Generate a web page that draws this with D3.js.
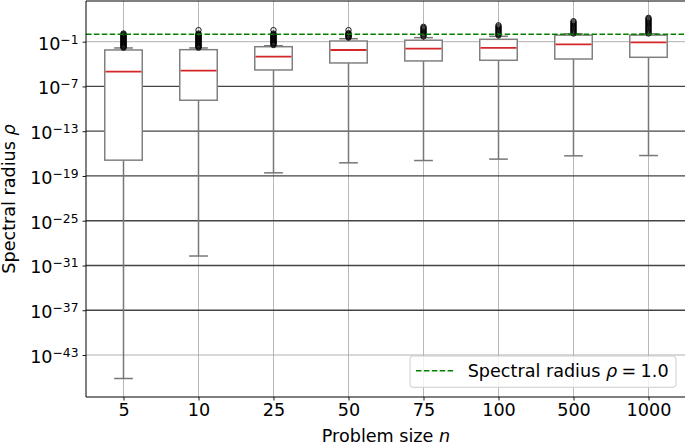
<!DOCTYPE html>
<html><head><meta charset="utf-8">
<script src="https://cdn.jsdelivr.net/npm/d3@7"></script>
<style>body{margin:0;background:#fff}svg{display:block}text{font-family:"DejaVu Sans",sans-serif}</style>
</head><body><svg id="c" width="685" height="446"></svg>
<script>
// ---- data (values are log10 of the spectral radius) ----
const categories = ["5","10","25","50","75","100","500","1000"];
const whiskerLow  = [-46.15, -29.73, -18.58, -17.24, -16.93, -16.74, -16.30, -16.26];
const q1          = [-16.88,  -8.85,  -4.79,  -3.85,  -3.58,  -3.49,  -3.32,  -3.09];
const medians     = [ -5.02,  -4.88,  -3.00,  -2.11,  -1.94,  -1.84,  -1.35,  -1.08];
const q3          = [ -2.11,  -2.07,  -1.67,  -0.91,  -0.80,  -0.68,  -0.12,  -0.12];
const whiskerHigh = [ -1.84,  -1.84,  -1.54,  -0.60,  -0.46,  -0.28,   0.05,   0.05];
const outlierExponents = [
  [-1.8,-1.7,-1.6,-1.5,-1.4,-1.3,-1.2,-1.1,-1.0,-0.9,-0.8,-0.7,-0.6,-0.5,-0.4,-0.3,-0.2,-0.1,0.0,0.1],
  [0.55,-1.8,-1.7,-1.6,-1.5,-1.4,-1.3,-1.2,-1.1,-1.0,-0.9,-0.8,-0.7,-0.6,-0.5,-0.4,-0.3,-0.2,-0.1,0.0,0.1],
  [0.55,-1.45,-1.3,-1.2,-1.1,-1.0,-0.9,-0.8,-0.7,-0.6,-0.5,-0.4,-0.3,-0.2,-0.1,0.0,0.1],
  [0.55,0.15,0.05,-0.05,-0.15,-0.25,-0.35,-0.45],
  [1.0,0.85,0.7,0.55,0.4,0.25,0.1,0.0,-0.15,-0.3],
  [1.2,1.05,0.9,0.75,0.6,0.45,0.3,0.15,0.0,-0.15],
  [1.75,1.6,1.45,1.3,1.15,1.0,0.85,0.7,0.55,0.4,0.25,0.1],
  [2.2,2.05,1.9,1.75,1.6,1.45,1.3,1.15,1.0,0.85,0.7,0.55,0.4,0.25,0.1]
];
const yTickExponents = [-1,-7,-13,-19,-25,-31,-37,-43];
const yDomainExponents = [-48.63, 4.456];
const referenceRho = 1.0;
const legendText = ["Spectral radius ", "ρ", "\u2005=\u20051.0"];
const xLabel = ["Problem size ", "n"];
const yLabel = ["Spectral radius ", "ρ"];

// ---- layout ----
const svg = d3.select("#c");
const L = 86, R = 686, T = 1, B = 397;
const FS = 17.6;
const x = d3.scalePoint().domain(categories).range([L, R]).padding(0.5);
const step = x.step();
const y = d3.scaleLog().domain(yDomainExponents.map(e => Math.pow(10, e))).range([B, T]);
const p = e => y(Math.pow(10, e));

// grid
const g = svg.append("g");
g.selectAll("line.vg").data(categories).join("line")
  .attr("x1", d => x(d)).attr("x2", d => x(d)).attr("y1", T).attr("y2", B)
  .attr("stroke", "#b0b0b0").attr("stroke-width", 0.9);
g.selectAll("line.hg").data(yTickExponents).join("line")
  .attr("x1", L).attr("x2", R).attr("y1", d => p(d)).attr("y2", d => p(d))
  .attr("stroke", (d, i) => (i === 0 || i === yTickExponents.length - 1) ? "#b0b0b0" : "#444444")
  .attr("stroke-width", (d, i) => (i === 0 || i === yTickExponents.length - 1) ? 1 : 1.3);

// boxes
const idx = d3.range(categories.length);
const bw = step * 0.5, cw = step * 0.25;
const boxG = svg.append("g");
const whiskerColor = "#777777";
boxG.selectAll("line.wl").data(idx).join("line")
  .attr("x1", i => x(categories[i])).attr("x2", i => x(categories[i]))
  .attr("y1", i => p(whiskerLow[i])).attr("y2", i => p(q1[i]))
  .attr("stroke", whiskerColor).attr("stroke-width", 1.5);
boxG.selectAll("line.wh").data(idx).join("line")
  .attr("x1", i => x(categories[i])).attr("x2", i => x(categories[i]))
  .attr("y1", i => p(whiskerHigh[i])).attr("y2", i => p(q3[i]))
  .attr("stroke", whiskerColor).attr("stroke-width", 1.5);
boxG.selectAll("line.cl").data(idx).join("line")
  .attr("x1", i => x(categories[i]) - cw / 2).attr("x2", i => x(categories[i]) + cw / 2)
  .attr("y1", i => p(whiskerLow[i])).attr("y2", i => p(whiskerLow[i]))
  .attr("stroke", whiskerColor).attr("stroke-width", 1.5);
boxG.selectAll("line.ch").data(idx).join("line")
  .attr("x1", i => x(categories[i]) - cw / 2).attr("x2", i => x(categories[i]) + cw / 2)
  .attr("y1", i => p(whiskerHigh[i])).attr("y2", i => p(whiskerHigh[i]))
  .attr("stroke", whiskerColor).attr("stroke-width", 1.5);
boxG.selectAll("rect").data(idx).join("rect")
  .attr("x", i => x(categories[i]) - bw / 2).attr("width", bw)
  .attr("y", i => p(q3[i])).attr("height", i => p(q1[i]) - p(q3[i]))
  .attr("fill", "#ffffff").attr("stroke", "#808080").attr("stroke-width", 1.5);
boxG.selectAll("line.md").data(idx).join("line")
  .attr("x1", i => x(categories[i]) - bw / 2 + 0.75).attr("x2", i => x(categories[i]) + bw / 2 - 0.75)
  .attr("y1", i => p(medians[i])).attr("y2", i => p(medians[i]))
  .attr("stroke", "#d62728").attr("stroke-width", 1.8);
// outliers
const flat = [];
outlierExponents.forEach((arr, i) => arr.forEach(v => flat.push([categories[i], v])));
boxG.selectAll("circle").data(flat).join("circle")
  .attr("cx", d => x(d[0])).attr("cy", d => p(d[1])).attr("r", 2.7)
  .attr("fill", "none").attr("stroke", "#000").attr("stroke-width", 0.9);

// reference line
svg.append("line").attr("x1", L).attr("x2", R)
  .attr("y1", y(referenceRho)).attr("y2", y(referenceRho))
  .attr("stroke", "#008000").attr("stroke-width", 1.6).attr("stroke-dasharray", "5.5,2.4");

// axes
const ya = d3.axisLeft(y).tickValues(yTickExponents.map(e => Math.pow(10, e))).tickSize(3.5).tickPadding(4).tickFormat(() => "");
const yg = svg.append("g").attr("transform", `translate(${L},0)`).call(ya);
yg.select(".domain").remove();
yg.selectAll(".tick line").attr("stroke", "#000").attr("stroke-width", 0.9);
yg.selectAll(".tick text").each(function(d, i) {
  const t = d3.select(this).attr("dy", null).attr("y", 7.3).attr("font-size", FS).attr("fill", "#000");
  t.append("tspan").text("10");
  t.append("tspan").attr("dy", -6).attr("font-size", FS * 0.7).text("\u2212" + Math.abs(yTickExponents[i]));
});
const xa = d3.axisBottom(x).tickSize(3.5).tickPadding(3.5);
const xg = svg.append("g").attr("transform", `translate(0,${B})`).call(xa);
xg.select(".domain").remove();
xg.selectAll(".tick line").attr("stroke", "#000").attr("stroke-width", 0.9);
xg.selectAll(".tick text").attr("font-size", FS).attr("fill", "#000");

// spines
svg.append("line").attr("x1", L).attr("x2", L).attr("y1", T).attr("y2", B).attr("stroke", "#000").attr("stroke-width", 1);
svg.append("line").attr("x1", L).attr("x2", R).attr("y1", B).attr("y2", B).attr("stroke", "#000").attr("stroke-width", 1);
svg.append("line").attr("x1", L).attr("x2", R).attr("y1", T).attr("y2", T).attr("stroke", "#000").attr("stroke-width", 1);

// axis labels
const xl = svg.append("text").attr("x", (L + R) / 2).attr("y", 441.5).attr("text-anchor", "middle").attr("font-size", FS);
xl.append("tspan").text(xLabel[0]);
xl.append("tspan").attr("font-style", "italic").text(xLabel[1]);
const yl = svg.append("text").attr("transform", `translate(15,${(T + B) / 2}) rotate(-90)`).attr("text-anchor", "middle").attr("font-size", FS);
yl.append("tspan").text(yLabel[0]);
yl.append("tspan").attr("font-style", "italic").text(yLabel[1]);

// legend
const lg = svg.append("g");
lg.append("rect").attr("x", 410).attr("y", 356).attr("width", 266).attr("height", 31.3).attr("rx", 3)
  .attr("fill", "#fff").attr("fill-opacity", 0.8).attr("stroke", "#cccccc").attr("stroke-width", 1);
lg.append("line").attr("x1", 416).attr("x2", 453.5).attr("y1", 370.7).attr("y2", 370.7)
  .attr("stroke", "#008000").attr("stroke-width", 1.6).attr("stroke-dasharray", "5.5,2.4");
const lt = lg.append("text").attr("x", 467.7).attr("y", 377.3).attr("font-size", FS).attr("xml:space", "preserve");
lt.append("tspan").text(legendText[0]);
lt.append("tspan").attr("font-style", "italic").text(legendText[1]);
lt.append("tspan").text(legendText[2]);
</script></body></html>
